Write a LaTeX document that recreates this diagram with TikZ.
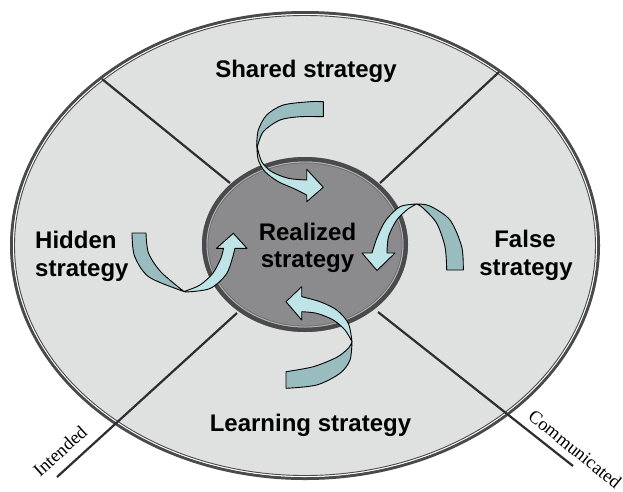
\documentclass[tikz,border=0pt]{standalone}
\usepackage{fontspec}
\setmainfont{Liberation Sans}
\newfontfamily\serifface{Liberation Serif}
\definecolor{outerfill}{HTML}{DFE0E0}
\definecolor{innerfill}{HTML}{8B8B8D}
\definecolor{rimdark}{HTML}{4A4A4C}
\definecolor{rimlight}{HTML}{B4B4B6}
\definecolor{divgray}{HTML}{2E2E30}
\definecolor{ribbonlight}{HTML}{BEE4E7}
\definecolor{ribbondark}{HTML}{99BDBF}
\begin{document}
\begin{tikzpicture}[x=1pt,y=-1pt,
  label/.style={font=\bfseries\fontsize{24}{28}\selectfont, inner sep=0pt, anchor=base},
  axislabel/.style={font=\serifface\fontsize{18.5}{20}\selectfont, inner sep=0pt},
  divider/.style={line width=2.2pt, draw=divgray},
  ribbonfront/.style={fill=ribbonlight, draw=black, line width=0.9pt, line join=round},
  ribbonback/.style={fill=ribbondark, draw=black, line width=0.9pt, line join=round},
]
% canvas
\fill[white] (0,0) rectangle (623,491);
\useasboundingbox (0,0) rectangle (623,491);

% outer disc with its double rim
\coordinate (oc) at (305,245.5);
\fill[outerfill] (oc) ellipse [x radius=295pt, y radius=234.5pt];
\draw[rimdark, line width=3pt] (oc) ellipse [x radius=293.5pt, y radius=233pt];
\draw[white, line width=1pt] (oc) ellipse [x radius=291.5pt, y radius=231pt];
\draw[rimdark, line width=0.9pt] (oc) ellipse [x radius=290.5pt, y radius=230pt];

% dividing lines between the four quadrants
\coordinate (ulo) at (102,79);  \coordinate (uli) at (230,183);
\coordinate (uro) at (499,72);  \coordinate (uri) at (380,183);
\coordinate (llo) at (57,477);  \coordinate (lli) at (237,313);
\coordinate (lro) at (573,466); \coordinate (lri) at (378,312);
\draw[divider] (ulo) -- (uli);
\draw[divider] (uro) -- (uri);
\draw[divider] (llo) -- (lli);
\draw[divider] (lro) -- (lri);

% inner disc
\coordinate (ic) at (305,244.5);
\fill[innerfill] (ic) ellipse [x radius=103pt, y radius=87.5pt];
\draw[rimdark, line width=4.5pt] (ic) ellipse [x radius=100.75pt, y radius=85.25pt];
\draw[rimlight, line width=1pt] (ic) ellipse [x radius=98pt, y radius=82.5pt];
\draw[rimdark!80, line width=0.7pt] (ic) ellipse [x radius=97pt, y radius=81.5pt];

% twisted ribbon arrows
% shared (top)
\filldraw[ribbonback] plot[smooth] coordinates {(323.3,101.7) (310,101.7) (283.3,105) (266.7,115) (258.3,130) (256.7,145)}
  -- plot[smooth] coordinates {(257.3,147) (263.3,131.7) (280,120) (300,116.7) (323.3,116.7)} -- cycle;
\filldraw[ribbonfront] plot[smooth] coordinates {(256.7,145) (261.7,161.7) (271.7,171.7) (288.3,178.3) (306.7,180)}
  -- (306.7,169.3) -- (323.3,187.3) -- (306.7,201.7) -- (306.7,195)
  -- plot[smooth] coordinates {(306.7,195) (293.3,188.3) (278.3,181.7) (265,171.7) (258.3,160) (256.9,147)} -- cycle;

% hidden (left)
\filldraw[ribbonback] plot[smooth] coordinates {(132,233) (134.5,256) (149,277) (184,291.5)}
  -- plot[smooth] coordinates {(184,291.5) (161,272) (148.5,253) (146,233)} -- cycle;
\filldraw[ribbonfront] plot[smooth] coordinates {(184,291.5) (200,285) (213,273) (221,258) (223.5,248.3)}
  -- (216.5,248.3) -- (233.3,233.3) -- (247,248.3) -- (235,248.3)
  -- plot[smooth] coordinates {(235,248.3) (227,273) (210,288.5) (186,292)} -- cycle;

% false (right)
\filldraw[ribbonback] plot[smooth] coordinates {(463.3,270) (461.7,246.7) (450,220) (430,206) (416.7,204)}
  -- plot[smooth] coordinates {(416.7,204) (423.3,208.3) (436.7,223.3) (445,246.7) (446.7,270)} -- cycle;
\filldraw[ribbonfront] plot[smooth] coordinates {(416.7,204) (400,206.7) (386,220) (377.5,236.5) (372,253)}
  -- (362,253) -- (377,270.5) -- (395,253) -- (387,253)
  -- plot[smooth] coordinates {(387,253) (388.5,236.7) (396.7,220) (408,209) (416.7,204)} -- cycle;

% learning (bottom)
\filldraw[ribbonback] plot[smooth] coordinates {(286,371.7) (313.3,366.7) (336.7,357.3) (348.3,348.3) (352,341.7)}
  -- plot[smooth] coordinates {(352,341.7) (350,360) (340,373.3) (316.7,385) (286,388.3)} -- cycle;
\filldraw[ribbonfront] plot[smooth] coordinates {(352,341.7) (348.3,323.3) (336.7,310) (320,301.7) (301.7,296.7)}
  -- (301.7,286.7) -- (286,301.7) -- (301.7,320) -- (301.7,311.7)
  -- plot[smooth] coordinates {(301.7,311.7) (316.7,313.3) (333.3,320) (345,330) (352,341.7)} -- cycle;

% quadrant and centre labels
\node[label] (shared) at (306,77) {Shared strategy};
\node[label, anchor=base west] (hidden1) at (35,248) {Hidden};
\node[label, anchor=base west] (hidden2) at (35,276) {strategy};
\node[label] (real1) at (307.5,240) {Realized};
\node[label] (real2) at (307.5,267) {strategy};
\node[label] (false1) at (525,247.3) {False};
\node[label] (false2) at (526,275) {strategy};
\node[label] (learn) at (310.5,431.7) {Learning strategy};

% axis labels along the lower lines
\node[axislabel, rotate=42] (intended) at (60,451) {Intended};
\node[axislabel, rotate=-39] (communicated) at (575,449) {Communicated};
\end{tikzpicture}
\end{document}
